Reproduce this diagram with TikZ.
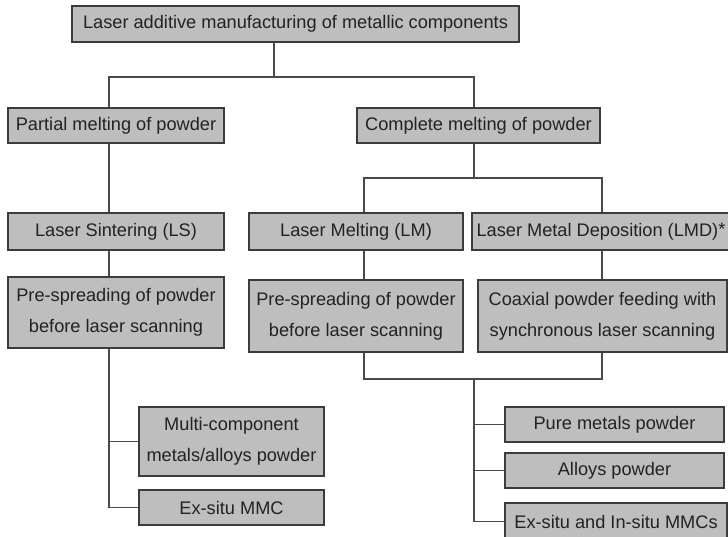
\documentclass[tikz,border=0pt]{standalone}
\usepackage{fontspec}
\setmainfont{Liberation Sans}
\usetikzlibrary{shadows}
\definecolor{boxfill}{HTML}{BEBEBE}
\definecolor{boxline}{HTML}{3C3C3C}
\definecolor{boxtext}{HTML}{222222}
\definecolor{linkline}{HTML}{4A4A4A}
\begin{document}
\begin{tikzpicture}
[x=1pt,y=-1pt,inner sep=0pt,
field/.style={draw=boxline, line width=1.3pt, fill=boxfill, text=boxtext,
  font=\fontsize{18.2}{31}\selectfont, align=center,
  drop shadow={shadow xshift=1.2pt, shadow yshift=-1.4pt, fill=black, opacity=0.45}},
link/.style={draw=linkline, line width=1.4pt}]
\useasboundingbox (0,0) rectangle (728,536);

% LEVEL 1
\node[field, minimum width=447pt, minimum height=36pt] (top) at (295.5,24) {Laser additive manufacturing of metallic components};

% LEVEL 2
\node[field, minimum width=216pt, minimum height=35pt] (partial) at (116,125.5) {Partial melting of powder};
\node[field, minimum width=243pt, minimum height=35pt] (complete) at (478.5,125.5) {Complete melting of powder};

% LEVEL 3
\node[field, minimum width=216pt, minimum height=37pt] (ls) at (116,231.5) {Laser Sintering (LS)};
\node[field, minimum width=214pt, minimum height=37pt] (lm) at (356,231.5) {Laser Melting (LM)};
\node[field, minimum width=258pt, minimum height=37pt] (lmd) at (601,231.5) {Laser Metal Deposition (LMD)\raisebox{1pt}{*}};

% LEVEL 4
\node[field, minimum width=216pt, minimum height=71pt] (lspre) at (116,312.5) {Pre-spreading of powder\\before laser scanning};
\node[field, minimum width=214pt, minimum height=72pt] (lmpre) at (356,316) {Pre-spreading of powder\\before laser scanning};
\node[field, minimum width=249pt, minimum height=72pt] (coax) at (602.5,316) {Coaxial powder feeding with\\synchronous laser scanning};

% LEVEL 5
\node[field, minimum width=185pt, minimum height=69pt] (multi) at (231.5,441.5) {Multi-component\\metals/alloys powder};
\node[field, minimum width=185pt, minimum height=35pt] (exmmc) at (231.5,507.5) {Ex-situ MMC};

\node[field, minimum width=219pt, minimum height=35pt] (pure) at (614.5,424.5) {Pure metals powder};
\node[field, minimum width=219pt, minimum height=35pt] (alloys) at (614.5,470.5) {Alloys powder};
\node[field, minimum width=222pt, minimum height=37pt] (exin) at (616,521.5) {Ex-situ and In-situ MMCs};

% junctions
\coordinate (j1) at (274,77);
\coordinate (jl) at (109,77);
\coordinate (jr) at (474,77);
\coordinate (j2) at (474,178);
\coordinate (j2l) at (364,178);
\coordinate (j2r) at (602,178);
\coordinate (j3l) at (364,379);
\coordinate (j3r) at (602,379);
\coordinate (j3) at (474,379);

% TOP SPLIT
\draw [link] (top.south -| j1) -- (j1);
\draw [link] (partial.north -| jl) -- (jl) -- (jr) -- (complete.north -| jr);

% LEFT BRANCH
\draw [link] (partial.south -| jl) -- (ls.north -| jl);
\draw [link] (ls.south -| jl) -- (lspre.north -| jl);
\draw [link] (lspre.south -| jl) |- (exmmc.west);
\draw [link] (multi.west -| jl) -- (multi.west);

% RIGHT BRANCH
\draw [link] (complete.south -| j2) -- (j2);
\draw [link] (lm.north -| j2l) -- (j2l) -- (j2r) -- (lmd.north -| j2r);
\draw [link] (lm.south -| j2l) -- (lmpre.north -| j2l);
\draw [link] (lmd.south -| j2r) -- (coax.north -| j2r);
\draw [link] (lmpre.south -| j3l) -- (j3l) -- (j3r) -- (coax.south -| j3r);
\draw [link] (j3) |- (exin.west);
\draw [link] (pure.west -| j3) -- (pure.west);
\draw [link] (alloys.west -| j3) -- (alloys.west);
\end{tikzpicture}
\end{document}
